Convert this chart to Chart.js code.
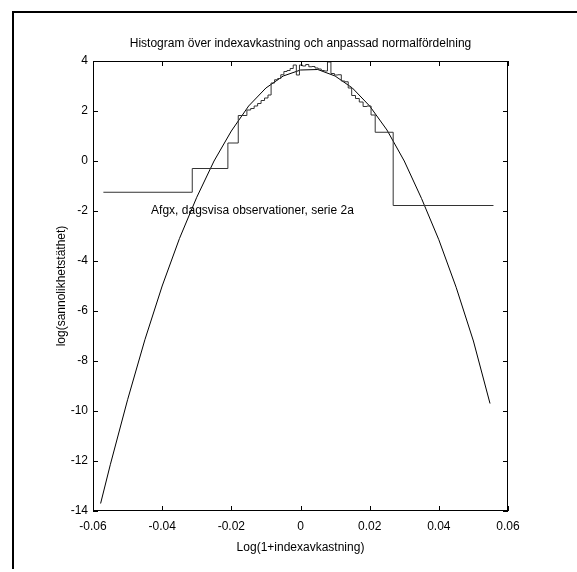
<!DOCTYPE html>
<html>
<head>
<meta charset="utf-8">
<script src="https://cdn.jsdelivr.net/npm/chart.js@4.4.0/dist/chart.umd.min.js"></script>
<style>
  html, body { margin: 0; padding: 0; background: #fff; }
  #wrap { position: relative; width: 577px; height: 572px; }
</style>
</head>
<body>
<div id="wrap"><canvas id="c" width="577" height="572"></canvas></div>
<script>
// Histogram bin edges (log returns) and log-density per bin
const binEdges = [
  -0.0570, -0.0313, -0.0210, -0.0180, -0.0155, -0.0144, -0.0134, -0.0124,
  -0.0114, -0.0104, -0.0094, -0.0085, -0.0075, -0.0066, -0.0057, -0.0048,
  -0.0039, -0.0030, -0.0021, -0.0012, -0.0003, 0.0006, 0.0015, 0.0024,
  0.0033, 0.0042, 0.0051, 0.0060, 0.0069, 0.0078, 0.0088, 0.0098,
  0.0108, 0.0118, 0.0128, 0.0138, 0.0148, 0.0159, 0.0170, 0.0181,
  0.0192, 0.0204, 0.0216, 0.0268, 0.0558
];
const binLogDensity = [
  -1.25, -0.30, 0.72, 1.82, 2.04, 2.10, 2.20, 2.30,
  2.42, 2.52, 2.64, 3.12, 3.25, 3.30, 3.45, 3.58,
  3.62, 3.70, 3.84, 3.44, 3.84, 3.80, 3.86, 3.77,
  3.78, 3.72, 3.68, 3.62, 3.60, 3.96, 3.50, 3.44,
  3.45, 3.20, 3.17, 2.92, 2.62, 2.50, 2.36, 2.18,
  2.20, 1.84, 1.15, -1.78
];

// Fitted normal distribution, log-density
const fitX = [
  -0.0578, -0.055, -0.050, -0.045, -0.040, -0.035, -0.030, -0.025,
  -0.020, -0.015, -0.010, -0.005, 0.000, 0.005, 0.010, 0.015,
  0.020, 0.025, 0.030, 0.035, 0.040, 0.045, 0.050, 0.0548
];
const fitLogDensity = [
  -13.70, -12.15, -9.55, -7.15, -5.00, -3.10, -1.45, 0.00,
  1.20, 2.20, 2.92, 3.40, 3.64, 3.66, 3.40, 2.92,
  2.20, 1.24, 0.00, -1.50, -3.15, -5.05, -7.20, -9.70
];

const titleText = 'Histogram över indexavkastning och anpassad normalfördelning';
const xLabel = 'Log(1+indexavkastning)';
const yLabel = 'log(sannolikhetstäthet)';
const noteText = 'Afgx, dagsvisa observationer, serie 2a';
const notePos = { x: -0.0432, y: -2.0 };

const FONT = '"Liberation Sans", Arial, Helvetica, sans-serif';

// stairs: each bin starts at its left edge, last bin closed at right edge
const stairs = binLogDensity.map((v, i) => ({ x: binEdges[i], y: v }));
stairs.push({ x: binEdges[binEdges.length - 1], y: binLogDensity[binLogDensity.length - 1] });
const fitPts = fitX.map((x, i) => ({ x, y: fitLogDensity[i] }));

const fmt = v => {
  const r = Math.round(v * 100) / 100;
  return Object.is(r, -0) ? '0' : String(r);
};

const decor = {
  id: 'decor',
  afterDraw(chart) {
    const { ctx, chartArea: a, scales } = chart;
    const xs = scales.x, ys = scales.y;
    ctx.save();
    // axes box
    ctx.strokeStyle = '#000';
    ctx.lineWidth = 1;
    ctx.strokeRect(a.left + 0.5, a.top + 0.5, a.right - a.left - 1, a.bottom - a.top - 1);
    // inward tick marks on all sides
    const tl = 5;
    ctx.beginPath();
    xs.ticks.forEach(t => {
      const px = Math.round(xs.getPixelForValue(t.value)) + 0.5;
      ctx.moveTo(px, a.bottom); ctx.lineTo(px, a.bottom - tl);
      ctx.moveTo(px, a.top); ctx.lineTo(px, a.top + tl);
    });
    ys.ticks.forEach(t => {
      const py = Math.round(ys.getPixelForValue(t.value)) + 0.5;
      ctx.moveTo(a.left, py); ctx.lineTo(a.left + tl, py);
      ctx.moveTo(a.right, py); ctx.lineTo(a.right - tl, py);
    });
    ctx.stroke();

    // texts
    ctx.fillStyle = '#000';
    ctx.font = '12px ' + FONT;
    ctx.textBaseline = 'middle';
    ctx.textAlign = 'center';
    ctx.fillText(titleText, (a.left + a.right) / 2, 44);
    ctx.fillText(xLabel, (a.left + a.right) / 2, 548);
    ctx.save();
    ctx.translate(62, (a.top + a.bottom) / 2);
    ctx.rotate(-Math.PI / 2);
    ctx.fillText(yLabel, 0, 0);
    ctx.restore();
    ctx.textAlign = 'left';
    ctx.fillText(noteText, xs.getPixelForValue(notePos.x), ys.getPixelForValue(notePos.y));

    // figure frame (top and left edges)
    ctx.lineWidth = 2;
    ctx.beginPath();
    ctx.moveTo(13, 569); ctx.lineTo(13, 12); ctx.lineTo(577, 12);
    ctx.stroke();
    ctx.restore();
  }
};

new Chart(document.getElementById('c'), {
  type: 'scatter',
  data: {
    datasets: [
      {
        label: 'histogram',
        data: stairs,
        showLine: true,
        stepped: 'before',
        borderColor: '#333',
        borderWidth: 1,
        pointRadius: 0,
        fill: false
      },
      {
        label: 'normal',
        data: fitPts,
        showLine: true,
        borderColor: '#000',
        borderWidth: 1,
        pointRadius: 0,
        tension: 0,
        fill: false
      }
    ]
  },
  options: {
    responsive: false,
    animation: false,
    devicePixelRatio: 1,
    layout: { padding: { top: 61, right: 69, left: 0, bottom: 0 } },
    plugins: { legend: { display: false }, tooltip: { enabled: false }, title: { display: false } },
    scales: {
      x: {
        type: 'linear', min: -0.06, max: 0.06,
        grid: { display: false, drawTicks: false },
        border: { display: false },
        ticks: { stepSize: 0.02, padding: 8, color: '#000', font: { size: 12, family: FONT }, callback: fmt, maxRotation: 0 },
        afterFit(s) { s.height = 61; }
      },
      y: {
        type: 'linear', min: -14, max: 4,
        grid: { display: false, drawTicks: false },
        border: { display: false },
        ticks: { stepSize: 2, padding: 5, color: '#000', font: { size: 12, family: FONT }, callback: fmt },
        afterFit(s) { s.width = 93; }
      }
    }
  },
  plugins: [decor]
});
</script>
</body>
</html>
